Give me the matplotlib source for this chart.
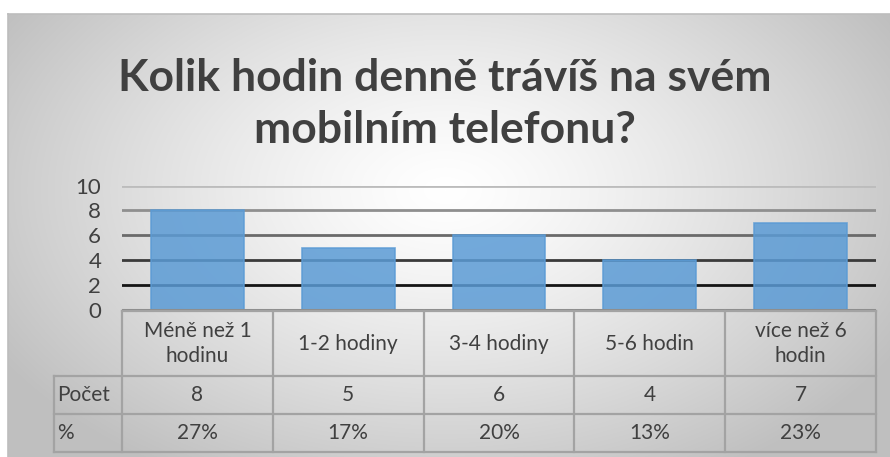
import numpy as np
import matplotlib
matplotlib.use("Agg")
from matplotlib import pyplot as plt
from matplotlib import transforms

plt.rcParams['font.family'] = ['Lato', 'DejaVu Sans']

# data
categories = ["Méně než 1\nhodinu", "1-2 hodiny", "3-4 hodiny", "5-6 hodin", "více než 6\nhodin"]
counts = [8, 5, 6, 4, 7]
percents = ["27%", "17%", "20%", "13%", "23%"]
row_labels = ["Počet", "%"]
yticks = [0, 2, 4, 6, 8, 10]
title = "Kolik hodin denně trávíš na svém\nmobilním telefonu?"

W, H = 890, 457
fig = plt.figure(figsize=(W / 100, H / 100), dpi=100)

# background with radial gradient (chart area starts at x=8, y=14 from top)
bg = fig.add_axes([0, 0, 1, 1])
bg.set_xlim(0, W)
bg.set_ylim(H, 0)
bg.axis("off")
yy, xx = np.mgrid[0:H, 0:W]
r = np.sqrt(((xx - 445) / 520.0) ** 2 + ((yy - 190) / 330.0) ** 2)
r = np.clip(r, 0, 1)
shade = 1.0 - 0.25 * r ** 1.3
img = np.dstack([shade, shade, shade])
img[:14, :, :] = 1.0
img[:, :8, :] = 1.0
bg.imshow(img, extent=[0, W, H, 0], aspect="auto", interpolation="bilinear")
bg.plot([8, W, W], [14, 14, 14], color="#bdbdbd", lw=1.2)
bg.plot([8, 8], [14, H], color="#bdbdbd", lw=1.2)

title_color = "#404040"
fig.text(0.5, 1 - 104 / H, title, ha="center", va="center", fontsize=32,
         fontweight="bold", color=title_color, linespacing=1.38)

# main plot
def fy(px):
    return 1 - px / H

left, right = 122 / W, 876 / W
bottom, top = fy(309.5), fy(185.5)
ax = fig.add_axes([left, bottom, right - left, top - bottom])
ax.patch.set_alpha(0)
x = np.arange(len(categories))
ax.set_xlim(-0.5, len(categories) - 0.5)
ax.set_ylim(0, 10)

grid_colors = {2: "#151515", 4: "#3a3a3a", 6: "#6a6a6a", 8: "#8f8f8f", 10: "#bcbcbc"}
for v, c in grid_colors.items():
    ax.axhline(v, color=c, lw=2, zorder=1)
ax.axhline(0, color="#8c8c8c", lw=2.2, zorder=3)

ax.bar(x, counts, width=0.615, color="#5b9bd5", alpha=0.85,
       edgecolor="#5b9bd5", linewidth=1.2, zorder=2)

for s in ax.spines.values():
    s.set_visible(False)
ax.set_xticks([])
ax.set_yticks(yticks)
ax.set_yticklabels([str(t) for t in yticks], fontsize=16, color=title_color)
ax.tick_params(axis="y", length=0, pad=15)

# data table below the axis
trans = transforms.blended_transform_factory(ax.transData, fig.transFigure)
line_c = "#a3a3a3"
rows_px = [311, 376, 414, 452]
label_left = -0.5 - 68 / 150.8
xb = np.arange(len(categories) + 1) - 0.5

kw = dict(transform=trans, color=line_c, lw=1.6, clip_on=False, zorder=4)
# horizontal lines
ax.plot([xb[0], xb[-1]], [fy(rows_px[0])] * 2, **kw)
for p in rows_px[1:]:
    ax.plot([label_left, xb[-1]], [fy(p)] * 2, **kw)
# vertical lines
for b in xb:
    ax.plot([b, b], [fy(rows_px[0]), fy(rows_px[-1])], **kw)
ax.plot([label_left, label_left], [fy(rows_px[1]), fy(rows_px[-1])], **kw)

tkw = dict(transform=trans, color=title_color, fontsize=15, ha="center",
           va="center", clip_on=False)
for i, cat in enumerate(categories):
    ax.text(x[i], fy((rows_px[0] + rows_px[1]) / 2), cat, linespacing=1.3, **tkw)
    ax.text(x[i], fy((rows_px[1] + rows_px[2]) / 2), str(counts[i]), **tkw)
    ax.text(x[i], fy((rows_px[2] + rows_px[3]) / 2), percents[i], **tkw)
for j, lab in enumerate(row_labels):
    ax.text(label_left + 0.02, fy((rows_px[j + 1] + rows_px[j + 2]) / 2), lab,
            transform=trans, color=title_color, fontsize=15, ha="left",
            va="center", clip_on=False)

fig.savefig("out.png", dpi=100)
